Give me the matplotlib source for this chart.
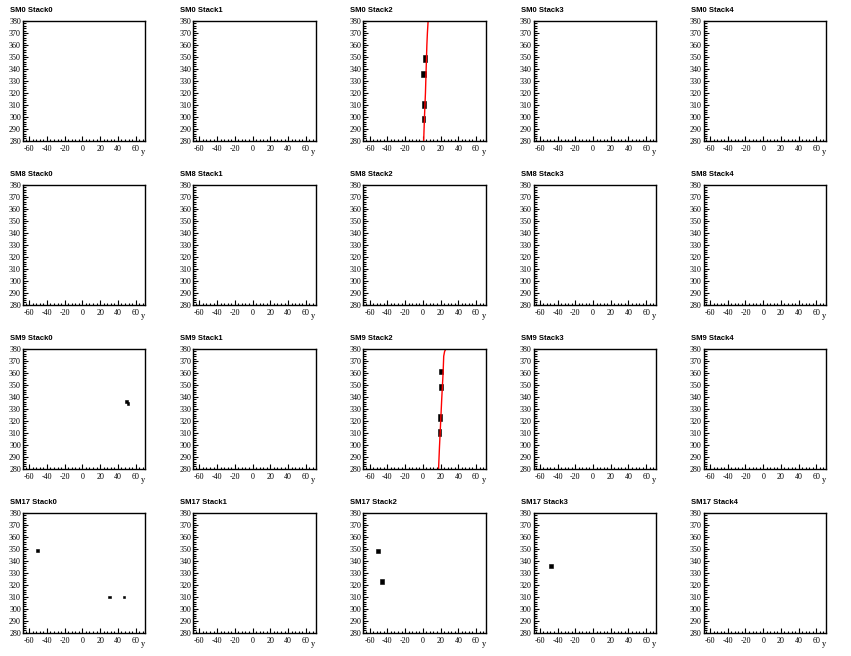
import numpy
from matplotlib import pyplot as plt
from matplotlib.ticker import MultipleLocator

# Panel layout: rows are supermodules, columns are stacks
modules = ["SM0", "SM8", "SM9", "SM17"]
stacks = ["Stack0", "Stack1", "Stack2", "Stack3", "Stack4"]

x_range = (-67, 71)
y_range = (280, 380)

# Fitted tracks (red)
sm0_s2_track_x = [1.0, 1.9, 3.0, 3.8, 4.6, 5.2, 6.0]
sm0_s2_track_y = [280, 300, 320, 340, 360, 370, 380]
sm9_s2_track_x = [17.8, 18.8, 19.9, 21.4, 22.9, 23.6, 24.6, 26.0]
sm9_s2_track_y = [280, 298, 315, 339, 360, 374, 378, 380]

# Clusters (black boxes): x left, x right, y bottom, y top
sm0_s2_boxes = [(0.0, 4.2, 346.0, 351.5), (-2.5, 3.2, 333.2, 338.2),
                (-1.0, 3.4, 307.6, 313.2), (-1.0, 2.6, 296.0, 300.6)]
sm9_s0_boxes = [(48.6, 51.6, 335.0, 337.5), (50.5, 53.0, 333.0, 336.0)]
sm9_s2_boxes = [(18.8, 22.8, 359.0, 363.2), (18.8, 22.5, 345.6, 350.7),
                (17.7, 21.4, 319.9, 325.5), (17.7, 20.3, 307.0, 312.9)]
sm17_s0_boxes = [(-52.0, -49.0, 347.4, 349.6), (29.0, 32.0, 308.6, 310.8),
                 (45.6, 48.6, 308.6, 310.8)]
sm17_s2_boxes = [(-52.4, -48.7, 346.6, 349.6), (-48.0, -44.2, 320.5, 324.7)]
sm17_s3_boxes = [(-49.3, -45.5, 334.1, 337.2)]

tracks = {
    (0, 2): (sm0_s2_track_x, sm0_s2_track_y),
    (2, 2): (sm9_s2_track_x, sm9_s2_track_y),
}
boxes = {
    (0, 2): sm0_s2_boxes,
    (2, 0): sm9_s0_boxes,
    (2, 2): sm9_s2_boxes,
    (3, 0): sm17_s0_boxes,
    (3, 2): sm17_s2_boxes,
    (3, 3): sm17_s3_boxes,
}

plt.rcParams["axes.unicode_minus"] = False

fig = plt.figure(figsize=(8.51, 6.56), dpi=100)
fig.patch.set_facecolor("white")

pad_w = 1 / len(stacks)
pad_h = 1 / len(modules)
left_m, right_m, top_m, bottom_m = 0.135, 0.146, 0.128, 0.142

tick_family = "Liberation Serif"
tick_size = 5.8

for row, sm in enumerate(modules):
    for col, st in enumerate(stacks):
        px0 = col * pad_w
        py0 = 1 - (row + 1) * pad_h
        ax = fig.add_axes([px0 + left_m * pad_w, py0 + bottom_m * pad_h,
                           (1 - left_m - right_m) * pad_w,
                           (1 - top_m - bottom_m) * pad_h])
        ax.set_xlim(x_range)
        ax.set_ylim(y_range)

        if (row, col) in boxes:
            for x0, x1, y0, y1 in boxes[(row, col)]:
                ax.bar(x0, y1 - y0, width=x1 - x0, bottom=y0, align="edge",
                       color="black", edgecolor="black", linewidth=0.4)
        if (row, col) in tracks:
            tx, ty = tracks[(row, col)]
            ax.plot(tx, ty, color="red", linewidth=1.0)

        ax.xaxis.set_major_locator(MultipleLocator(20))
        ax.xaxis.set_minor_locator(MultipleLocator(4))
        ax.yaxis.set_major_locator(MultipleLocator(10))
        ax.yaxis.set_minor_locator(MultipleLocator(2))
        ax.tick_params(which="both", direction="in", top=False, right=False,
                       width=0.8)
        ax.tick_params(axis="x", pad=3)
        ax.tick_params(axis="y", pad=1.5)
        ax.tick_params(which="major", length=3.5)
        ax.tick_params(which="minor", length=1.8)
        for lab in ax.get_xticklabels() + ax.get_yticklabels():
            lab.set_fontfamily(tick_family)
            lab.set_fontsize(tick_size)
        for sp in ax.spines.values():
            sp.set_linewidth(1.0)

        ax.text(1.0, -0.065, "y", transform=ax.transAxes, ha="right", va="top",
                fontfamily=tick_family, fontsize=6)
        fig.text(px0 + 10 / 851, py0 + pad_h - 10 / 656, f"{sm} {st}",
                 ha="left", va="center", fontfamily="Liberation Sans",
                 fontweight="bold", fontsize=5.5)

fig.savefig("out.png", dpi=100)
